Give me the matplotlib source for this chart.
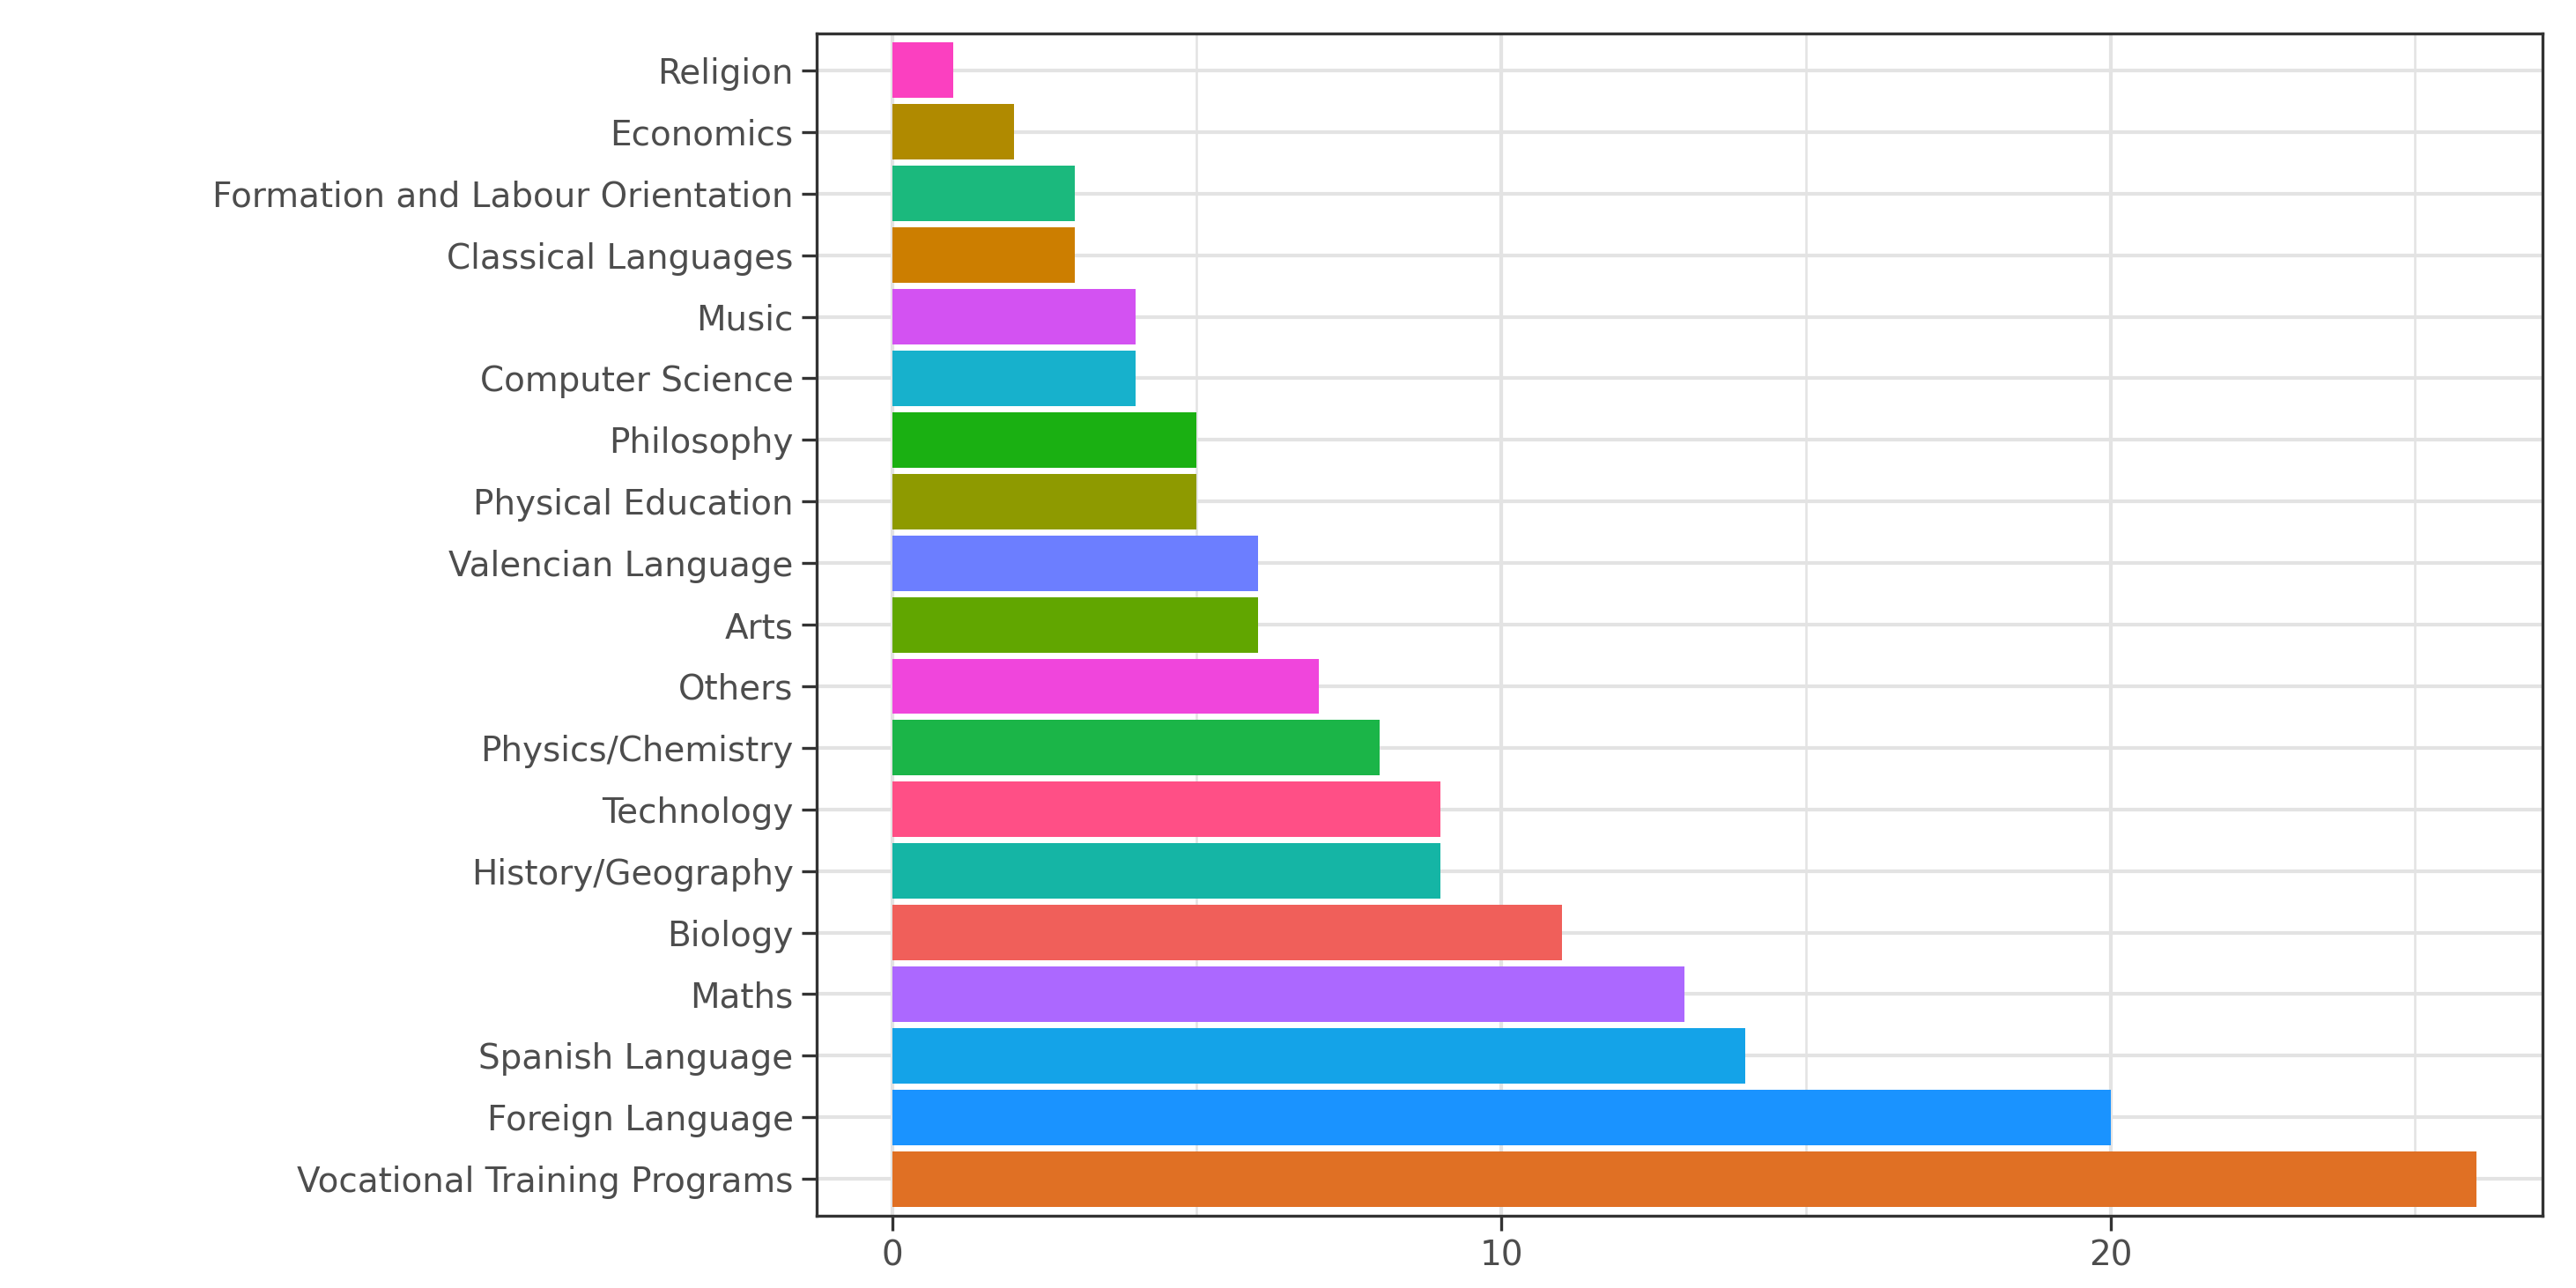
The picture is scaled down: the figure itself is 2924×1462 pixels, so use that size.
import matplotlib
matplotlib.use("Agg")
import matplotlib.pyplot as plt

categories = ["Vocational Training Programs","Foreign Language","Spanish Language","Maths","Biology",
    "History/Geography","Technology","Physics/Chemistry","Others","Arts","Valencian Language",
    "Physical Education","Philosophy","Computer Science","Music","Classical Languages",
    "Formation and Labour Orientation","Economics","Religion"]
values = [26,20,14,13,11,9,9,8,7,6,6,5,5,4,4,3,3,2,1]
colors = ["#E07024","#1A93FF","#14A3E8","#AC68FF","#F05F5A","#15B5A5","#FF4F86","#1BB548",
    "#F045DC","#61A600","#6C7EFF","#8E9A00","#1AB012","#17B1CC","#D352F2","#CC7E00",
    "#1BB97D","#B08A00","#FB40C0"]

plt.rcParams['font.family'] = ['DejaVu Sans']
fig = plt.figure(figsize=(14.62, 7.31), dpi=200)
ax = fig.add_axes([0.317, 0.056, 0.670, 0.918])
y = list(range(len(categories)))
ax.barh(y, values, height=0.9, color=colors, zorder=3)
ax.set_yticks(y)
ax.set_yticklabels(categories, fontsize=14, color="#4D4D4D")
ax.set_xticks([0, 10, 20])
ax.set_xticks([5, 15, 25], minor=True)
ax.tick_params(axis='x', labelsize=14, labelcolor="#4D4D4D")
ax.tick_params(which='both', color="#333333", length=6, width=1.2)
ax.tick_params(which='minor', length=0)
ax.set_xlim(-1.24, 27.09)
ax.set_ylim(-0.6, 18.6)
ax.grid(True, which='major', color="#E3E3E3", lw=1.5, zorder=0)
ax.grid(True, which='minor', axis='x', color="#E3E3E3", lw=0.9, zorder=0)
for s in ax.spines.values():
    s.set_color("#333333"); s.set_linewidth(1.2)
fig.savefig("out.png", dpi=200)
